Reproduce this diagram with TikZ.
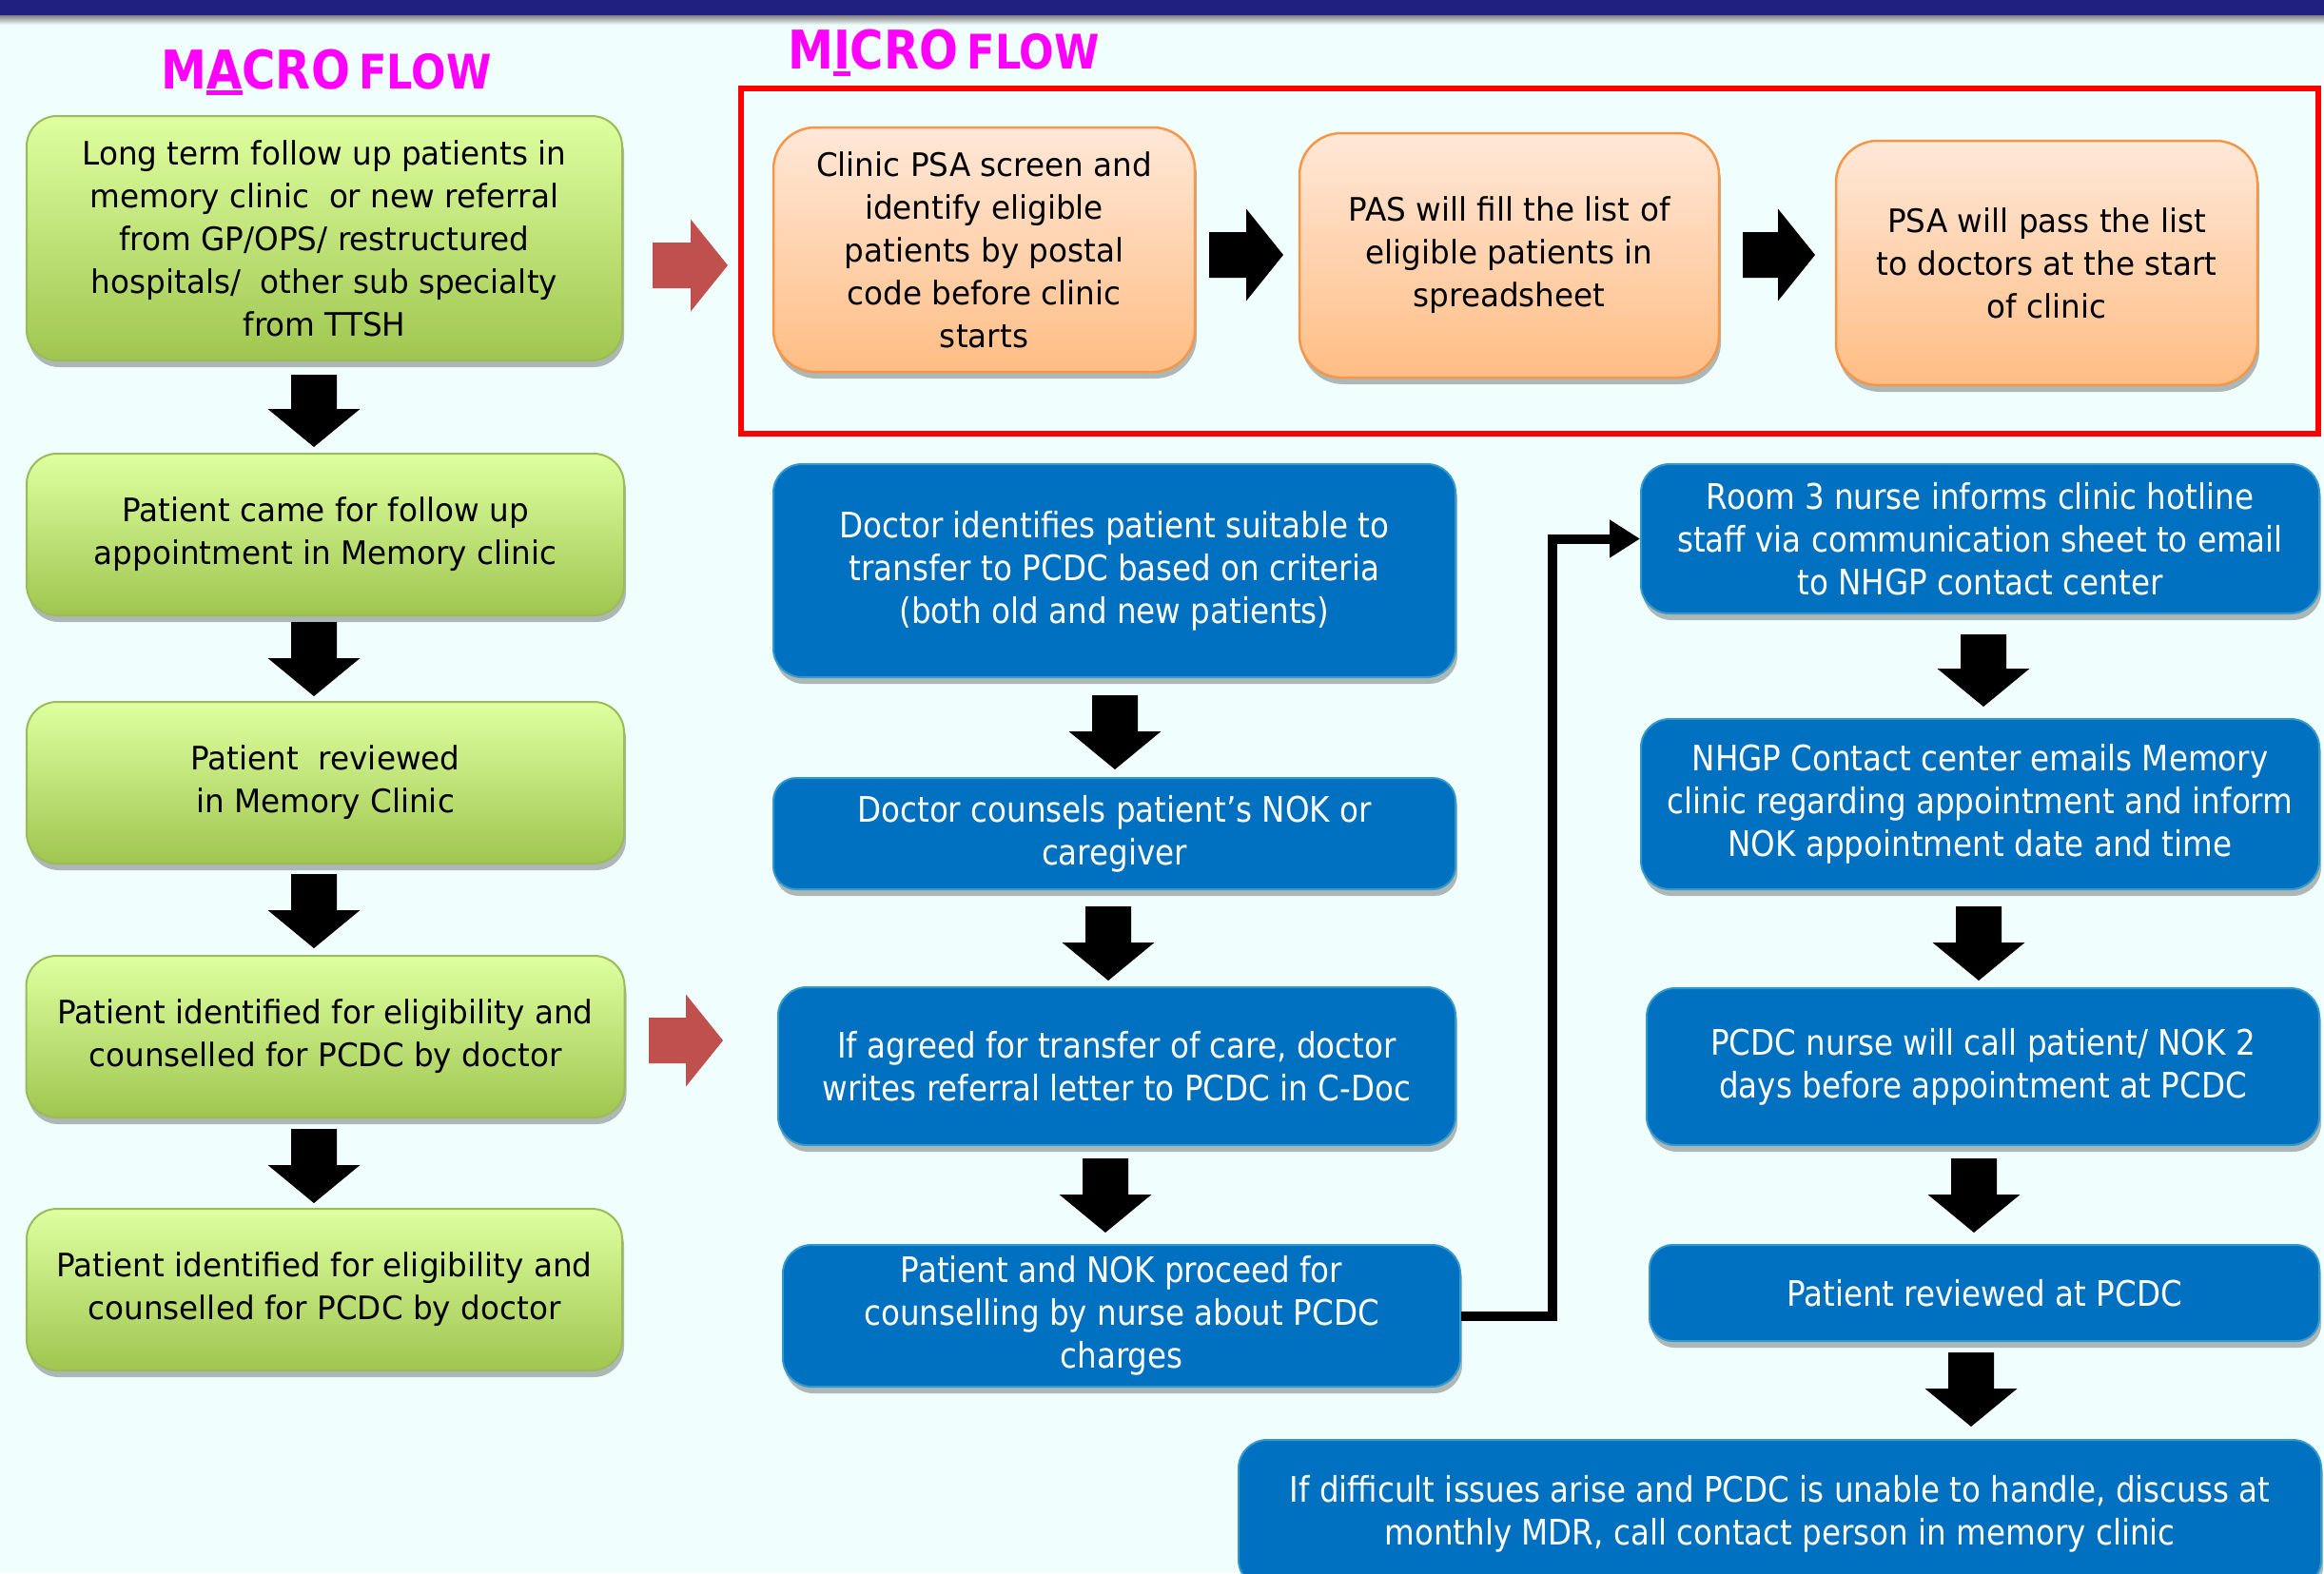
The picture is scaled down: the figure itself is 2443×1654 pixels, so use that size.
\documentclass[tikz,border=0pt]{standalone}
\usepackage{fontspec}
\setmainfont{DejaVu Sans}
\newfontfamily\gfont[FakeStretch=0.96]{DejaVu Sans}
\newfontfamily\bfont[FakeStretch=0.88]{DejaVu Sans}
\newfontfamily\tfont[FakeStretch=0.86]{DejaVu Sans}
\usetikzlibrary{shadows,arrows.meta}
\definecolor{bg}{HTML}{F0FEFD}
\definecolor{navy}{HTML}{1F1F80}
\definecolor{mag}{HTML}{FF00FF}
\definecolor{gtop}{HTML}{DFFFA0}
\definecolor{gbot}{HTML}{A0C650}
\definecolor{gline}{HTML}{9BBB59}
\definecolor{otop}{HTML}{FFE8D8}
\definecolor{obot}{HTML}{FFBD84}
\definecolor{oline}{HTML}{F79646}
\definecolor{blu}{HTML}{0070C0}
\definecolor{bline}{HTML}{3399CC}
\definecolor{redarr}{HTML}{C0504D}
\newcommand\ulin[1]{\setbox0=\hbox{#1}\rlap{\rule[-0.12em]{\wd0}{0.08em}}\box0}
\newcommand\downarr[3]{\fill[black] (#1-24,#2) -- (#1+24,#2) -- (#1+24,#3-40) -- (#1+48.5,#3-40) -- (#1,#3) -- (#1-48.5,#3-40) -- (#1-24,#3-40) -- cycle;}
\newcommand\rightarr[4]{\fill[#4] (#1,#3-24) -- (#2-39,#3-24) -- (#2-39,#3-48.5) -- (#2,#3) -- (#2-39,#3+48.5) -- (#2-39,#3+24) -- (#1,#3+24) -- cycle;}
\tikzset{
  boxshadow/.style={drop shadow={shadow xshift=2pt,shadow yshift=-7pt,opacity=0.28,fill=black}},
  greenbox/.style={rounded corners=32pt, draw=gline, line width=2pt, top color=gtop, bottom color=gbot, align=center, text=black, inner sep=0pt, font=\gfont\fontsize{34}{45}\selectfont, boxshadow},
  orangebox/.style={rounded corners=44pt, draw=oline, line width=2.5pt, top color=otop, bottom color=obot, align=center, text=black, inner sep=0pt, font=\gfont\fontsize{34}{45}\selectfont, boxshadow},
  bluebox/.style={rounded corners=30pt, draw=bline, line width=2pt, fill=blu, align=center, text=white, inner sep=0pt, font=\bfont\fontsize{37}{45}\selectfont, boxshadow},
  title/.style={anchor=base, text=mag, font=\tfont\bfseries},
  conn/.style={line width=10pt, -{Triangle[length=32pt,width=38pt]}}
}
\begin{document}
\begin{tikzpicture}[x=1pt,y=-1pt]
\useasboundingbox (0,0) rectangle (2443,1654);
\clip (0,0) rectangle (2443,1654);
\fill[bg] (0,0) rectangle (2443,1654);
\fill[navy] (0,0) rectangle (2443,17);
\shade[top color=black!45, bottom color=bg] (0,17) rectangle (2443,26);

% titles
\node[title] (macro) at (343,93) {\fontsize{56}{60}\selectfont M\ulin{A}CRO\,{\fontsize{50}{60}\selectfont FLOW}};
\node[title] (micro) at (992,73) {\fontsize{56}{60}\selectfont M\ulin{I}CRO\,{\fontsize{50}{60}\selectfont FLOW}};

% red frame
\draw[red, line width=6pt] (779,93) rectangle (2437,456);

% macro column
\node[greenbox, minimum width=626pt, minimum height=257pt] (g1) at (341,250.5) {Long term follow up patients in\\memory clinic~ or new referral\\from GP/OPS/ restructured\\hospitals/~ other sub specialty\\from TTSH};
\node[greenbox, minimum width=628pt, minimum height=170pt] (g2) at (342,562) {Patient came for follow up\\appointment in Memory clinic};
\node[greenbox, minimum width=628pt, minimum height=170pt] (g3) at (342,823) {Patient~ reviewed\\in Memory Clinic};
\node[greenbox, minimum width=629pt, minimum height=170pt] (g4) at (342,1090) {Patient identified for eligibility and\\counselled for PCDC by doctor};
\node[greenbox, minimum width=626pt, minimum height=170pt] (g5) at (341,1356) {Patient identified for eligibility and\\counselled for PCDC by doctor};

\downarr{330}{394}{470}
\downarr{330}{654}{732}
\downarr{330}{919}{997}
\downarr{330}{1187}{1265}

\rightarr{686}{765}{279}{redarr}
\rightarr{682}{760}{1094}{redarr}

% orange row
\node[orangebox, minimum width=443pt, minimum height=257pt] (o1) at (1034.5,262.5) {Clinic PSA screen and\\identify eligible\\patients by postal\\code before clinic\\starts};
\node[orangebox, minimum width=441pt, minimum height=257pt] (o2) at (1586.5,268.5) {PAS will fill the list of\\eligible patients in\\spreadsheet};
\node[orangebox, minimum width=443pt, minimum height=257pt] (o3) at (2151.5,276.5) {PSA will pass the list\\to doctors at the start\\of clinic};

\rightarr{1271}{1349}{268}{black}
\rightarr{1832}{1908}{268}{black}

% blue middle column
\node[bluebox, minimum width=717pt, minimum height=224pt] (b1) at (1171.5,600) {Doctor identifies patient suitable to\\transfer to PCDC based on criteria\\(both old and new patients)};
\node[bluebox, minimum width=717pt, minimum height=117pt, rounded corners=24pt] (b2) at (1171.5,876.5) {Doctor counsels patient’s NOK or\\caregiver};
\node[bluebox, minimum width=712pt, minimum height=166pt] (b3) at (1174,1121) {If agreed for transfer of care, doctor\\writes referral letter to PCDC in C-Doc};
\node[bluebox, minimum width=712pt, minimum height=149pt] (b4) at (1179,1383.5) {Patient and NOK proceed for\\counselling by nurse about PCDC\\charges};

\downarr{1172}{731}{809}
\downarr{1165}{953}{1031}
\downarr{1162}{1218}{1296}

% blue right column
\node[bluebox, minimum width=713pt, minimum height=157pt] (c1) at (2081.5,566.5) {Room 3 nurse informs clinic hotline\\staff via communication sheet to email\\to NHGP contact center};
\node[bluebox, minimum width=713pt, minimum height=179pt] (c2) at (2081.5,845.5) {NHGP Contact center emails Memory\\clinic regarding appointment and inform\\NOK appointment date and time};
\node[bluebox, minimum width=707pt, minimum height=165pt] (c3) at (2084.5,1121.5) {PCDC nurse will call patient/ NOK 2\\days before appointment at PCDC};
\node[bluebox, minimum width=704pt, minimum height=101pt, rounded corners=24pt] (c4) at (2086,1359.5) {Patient reviewed at PCDC};
\node[bluebox, minimum width=1138pt, minimum height=156pt] (c5) at (1871,1592) {If difficult issues arise and PCDC is unable to handle, discuss at\\monthly MDR, call contact person in memory clinic};

\downarr{2085}{667}{743}
\downarr{2080}{953}{1031}
\downarr{2075}{1218}{1296}
\downarr{2072}{1422}{1500}

% connector
\draw[conn] (b4.east) -- ++(96,0) |- (c1.west);
\end{tikzpicture}
\end{document}
